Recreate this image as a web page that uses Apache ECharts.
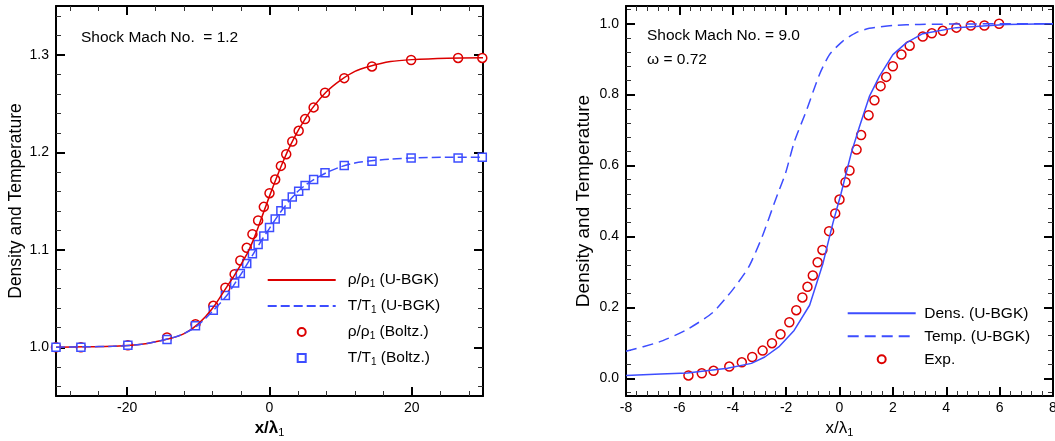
<!DOCTYPE html>
<html>
<head>
<meta charset="utf-8">
<script src="https://cdn.jsdelivr.net/npm/echarts@6/dist/echarts.min.js"></script>
<style>
html,body{margin:0;padding:0;background:#fff;}
#chart{width:1055px;height:441px;}
</style>
</head>
<body>
<div id="chart"></div>
<script>
// ---------- Left panel (Mach 1.2) ----------
const xCurveL = [-30,-26,-22,-18,-14,-12,-10,-8,-6,-5,-4,-3,-2,-1,0,1,2,3,4,5,6,8,10,12,14,17,20,25,30];
const rhoCurveL = [1.0,1.0005,1.001,1.003,1.009,1.014,1.024,1.04,1.062,1.073,1.085,1.098,1.115,1.135,1.155,1.174,1.192,1.208,1.222,1.234,1.245,1.262,1.274,1.283,1.288,1.293,1.295,1.2965,1.297];
const tempCurveL = [1.0,1.0005,1.001,1.003,1.009,1.014,1.023,1.037,1.053,1.064,1.075,1.087,1.099,1.111,1.122,1.133,1.143,1.152,1.160,1.166,1.171,1.179,1.185,1.189,1.191,1.193,1.194,1.195,1.195];
const xBoltz = [-30,-26.5,-19.9,-14.4,-10.4,-7.9,-6.2,-4.9,-4.1,-3.2,-2.4,-1.6,-0.8,0,0.8,1.6,2.35,3.2,4.1,5.0,6.2,7.8,10.5,14.4,19.9,26.5,29.9];
const rhoBoltz = [1.0,1.0,1.002,1.01,1.0236,1.0425,1.061,1.075,1.089,1.102,1.116,1.13,1.144,1.158,1.172,1.186,1.198,1.211,1.222,1.234,1.246,1.261,1.276,1.288,1.2946,1.2967,1.2967];
const tempBoltz = [1.0,1.0,1.002,1.008,1.022,1.038,1.053,1.066,1.0757,1.086,1.096,1.1055,1.114,1.1227,1.1315,1.14,1.147,1.154,1.16,1.166,1.172,1.179,1.1863,1.1908,1.194,1.194,1.195];
const xTicksL = [-20,0,20];
const yTicksL = [1.0,1.1,1.2,1.3];
const legendL = ['ρ/ρ1 (U-BGK)','T/T1 (U-BGK)','ρ/ρ1 (Boltz.)','T/T1 (Boltz.)'];

// ---------- Right panel (Mach 9.0) ----------
const xDensR = [-8,-6.7,-5.7,-4.2,-3.3,-2.8,-2.25,-1.7,-1.12,-0.62,-0.25,0.06,0.44,0.75,1.12,1.5,2.0,2.5,3.12,4.37,6.24,8];
const densR = [0.008,0.012,0.015,0.028,0.042,0.06,0.09,0.135,0.206,0.324,0.437,0.522,0.635,0.71,0.795,0.852,0.913,0.946,0.972,0.989,0.9975,1.0];
const xTempR = [-8,-6.77,-5.77,-4.77,-4.02,-3.4,-2.9,-2.4,-2.02,-1.69,-1.25,-0.75,-0.375,0.125,0.625,1.12,2.0,3.0,5.0,8];
const tempR = [0.076,0.102,0.135,0.184,0.248,0.314,0.399,0.503,0.579,0.668,0.753,0.857,0.913,0.951,0.975,0.987,0.995,0.998,0.9995,1.0];
const xExp = [-5.66,-5.16,-4.72,-4.13,-3.66,-3.27,-2.88,-2.53,-2.21,-1.88,-1.62,-1.39,-1.2,-1.0,-0.82,-0.64,-0.39,-0.16,0,0.225,0.375,0.64,0.81,1.09,1.31,1.54,1.75,2.0,2.32,2.63,3.12,3.46,3.87,4.38,4.92,5.43,5.98];
const yExp = [0.008,0.014,0.021,0.033,0.045,0.06,0.078,0.099,0.124,0.158,0.192,0.228,0.258,0.29,0.327,0.362,0.415,0.465,0.504,0.553,0.586,0.645,0.686,0.742,0.784,0.824,0.85,0.88,0.913,0.938,0.964,0.973,0.98,0.989,0.995,0.995,1.0];
const xTicksR = [-8,-6,-4,-2,0,2,4,6,8];
const yTicksR = [0.0,0.2,0.4,0.6,0.8,1.0];
const legendR = ['Dens. (U-BGK)','Temp. (U-BGK)','Exp.'];

const FONT = "'Liberation Sans', Arial, Helvetica, sans-serif";
const RED = '#dc0000';
const BLUE = '#3d4dff';

function pairs(xs, ys){ return xs.map((x,i)=>[x, ys[i]]); }
function minorTicks(from, to, step, majors){
  const out = [];
  const n = Math.round((to-from)/step);
  for (let i=0;i<=n;i++){
    const v = Math.round((from + i*step)*10000)/10000;
    if (!majors.some(m => Math.abs(m-v) < 1e-9)) out.push(v);
  }
  return out;
}
function subFmt(name){
  const m = name.match(/^(ρ\/ρ|T\/T)1(.*)$/);
  if (m) return '{a|' + m[1] + '}{s|1}{a|' + m[2] + '}';
  return '{a|' + name + '}';
}

function axesFor(g, cfg){
  const xs = [], ys = [];
  const majorTick = (vals, len) => ({show:true, inside:true, length:len, customValues: vals, lineStyle:{color:'#000', width:2}});
  const minorTick = (vals) => ({show:true, inside:true, length:5, customValues: vals, lineStyle:{color:'#333', width:1}});
  const base = (min,max,line) => ({gridIndex:g, type:'value', min:min, max:max,
    axisLine:{show:!!line, onZero:false, lineStyle:{color:'#000', width:2}}, splitLine:{show:false}});
  xs.push(Object.assign(base(cfg.xMin,cfg.xMax,true), {
    position:'bottom', axisTick: majorTick(cfg.xMajors, 9),
    axisLabel:{show:true, customValues: cfg.xMajors, margin:5, fontSize:14, color:'#000', fontFamily:FONT, formatter: v => String(v)},
    name: '{b|x/λ}{s|1}', nameLocation:'middle', nameGap: 17,
    nameTextStyle:{fontFamily:FONT, color:'#000', rich:{
      b:{fontSize:17, fontWeight: cfg.xNameBold ? 'bold':'normal', fontFamily:FONT, color:'#000'},
      s:{fontSize:11, fontFamily:FONT, color:'#000', padding:[9,0,0,0]}}}
  }));
  xs.push(Object.assign(base(cfg.xMin,cfg.xMax,true), {position:'top', axisTick: majorTick(cfg.xMajors, 9), axisLabel:{show:false}}));
  xs.push(Object.assign(base(cfg.xMin,cfg.xMax,false), {position:'bottom', axisTick: minorTick(cfg.xMinors), axisLabel:{show:false}}));
  xs.push(Object.assign(base(cfg.xMin,cfg.xMax,false), {position:'top', axisTick: minorTick(cfg.xMinors), axisLabel:{show:false}}));
  ys.push(Object.assign(base(cfg.yMin,cfg.yMax,true), {
    position:'left', axisTick: majorTick(cfg.yMajors, 9),
    axisLabel:{show:true, customValues: cfg.yMajors, margin:7, fontSize:14, color:'#000', fontFamily:FONT, formatter: v => v.toFixed(1)},
    name:'Density and Temperature', nameLocation:'middle', nameGap: cfg.yNameGap,
    nameTextStyle:{fontSize: cfg.yNameSize, fontFamily:FONT, color:'#000'}
  }));
  ys.push(Object.assign(base(cfg.yMin,cfg.yMax,true), {position:'right', axisTick: majorTick(cfg.yMajors, 9), axisLabel:{show:false}}));
  ys.push(Object.assign(base(cfg.yMin,cfg.yMax,false), {position:'left', axisTick: minorTick(cfg.yMinors), axisLabel:{show:false}}));
  ys.push(Object.assign(base(cfg.yMin,cfg.yMax,false), {position:'right', axisTick: minorTick(cfg.yMinors), axisLabel:{show:false}}));
  return {xs, ys};
}

const L = axesFor(0, {
  xMin:-30, xMax:30, xMajors:xTicksL, xMinors:minorTicks(-28,28,4,xTicksL),
  yMin:0.95, yMax:1.35, yMajors:yTicksL, yMinors:minorTicks(0.96,1.34,0.02,yTicksL),
  xNameBold:true, yNameGap:31, yNameSize:17.5
});
const R = axesFor(1, {
  xMin:-8, xMax:8, xMajors:xTicksR, xMinors:minorTicks(-7.6,7.6,0.4,xTicksR),
  yMin:-0.05, yMax:1.05, yMajors:yTicksR, yMinors:minorTicks(-0.04,1.04,0.04,yTicksR),
  xNameBold:false, yNameGap:33, yNameSize:19
});

const legendText = {fontSize:15.5, fontFamily:FONT, color:'#000', lineHeight:18,
  rich:{a:{fontSize:15.5, fontFamily:FONT, color:'#000'}, s:{fontSize:10, fontFamily:FONT, color:'#000', padding:[8,0,0,0]}}};
const SQUARE = 'path://M0,0L10,0L10,10L0,10Z';
const titleStyle = {fontSize:15.5, fontWeight:'normal', fontFamily:FONT, color:'#000'};

const option = {
  animation:false,
  grid:[
    {left:56, top:6, width:427, height:390, outerBoundsMode:'none'},
    {left:626, top:6, width:427, height:390, outerBoundsMode:'none'}
  ],
  title:[
    {text:'Shock Mach No.  = 1.2', left:81, top:30, padding:0, textStyle:titleStyle},
    {text:'Shock Mach No. = 9.0', left:647, top:28, padding:0, textStyle:titleStyle},
    {text:'ω = 0.72', left:647, top:52, padding:0, textStyle:titleStyle}
  ],
  legend:[
    {data:[
        {name:legendL[0], itemStyle:{opacity:0}},
        {name:legendL[1], itemStyle:{opacity:0}},
        {name:legendL[2]},
        {name:legendL[3], icon:SQUARE}
     ], orient:'vertical', left:266.7, top:271, padding:0, itemWidth:68, itemHeight:8, itemGap:8,
     selectedMode:false, formatter:subFmt, textStyle:Object.assign({padding:[0,0,0,7]}, legendText)},
    {data:[
        {name:legendR[0], itemStyle:{opacity:0}},
        {name:legendR[1], itemStyle:{opacity:0}},
        {name:legendR[2]}
     ], orient:'vertical', left:846.7, top:304.3, padding:0, itemWidth:68, itemHeight:8, itemGap:5,
     selectedMode:false, formatter:subFmt, textStyle:Object.assign({padding:[0,0,0,3.5]}, legendText)}
  ],
  xAxis: L.xs.concat(R.xs),
  yAxis: L.ys.concat(R.ys),
  series:[
    {name:legendL[0], type:'line', xAxisIndex:0, yAxisIndex:0, data:pairs(xCurveL, rhoCurveL), symbol:'none', smooth:0.3,
     lineStyle:{color:RED, width:1.5}, itemStyle:{color:RED}},
    {name:legendL[1], type:'line', xAxisIndex:0, yAxisIndex:0, data:pairs(xCurveL, tempCurveL), symbol:'none', smooth:0.3,
     lineStyle:{color:BLUE, width:1.5, type:[9,4]}, itemStyle:{color:BLUE}},
    {name:legendL[2], type:'scatter', xAxisIndex:0, yAxisIndex:0, data:pairs(xBoltz, rhoBoltz), symbol:'circle', symbolSize:9, clip:false,
     itemStyle:{color:'#fff', borderColor:RED, borderWidth:1.5, opacity:1}},
    {name:legendL[3], type:'scatter', xAxisIndex:0, yAxisIndex:0, data:pairs(xBoltz, tempBoltz), symbol:'rect', symbolSize:8, clip:false,
     itemStyle:{color:'#fff', borderColor:BLUE, borderWidth:1.5, opacity:1}},
    {name:legendR[0], type:'line', xAxisIndex:4, yAxisIndex:4, data:pairs(xDensR, densR), symbol:'none',
     lineStyle:{color:BLUE, width:1.5}, itemStyle:{color:BLUE}},
    {name:legendR[1], type:'line', xAxisIndex:4, yAxisIndex:4, data:pairs(xTempR, tempR), symbol:'none', smooth:0.2,
     lineStyle:{color:BLUE, width:1.5, type:[11,6]}, itemStyle:{color:BLUE}},
    {name:legendR[2], type:'scatter', xAxisIndex:4, yAxisIndex:4, data:pairs(xExp, yExp), symbol:'circle', symbolSize:9, clip:false,
     itemStyle:{color:'#fff', borderColor:RED, borderWidth:1.5, opacity:1}}
  ]
};

const chart = echarts.init(document.getElementById('chart'), null, {renderer:'canvas'});
chart.setOption(option);
</script>
</body>
</html>
